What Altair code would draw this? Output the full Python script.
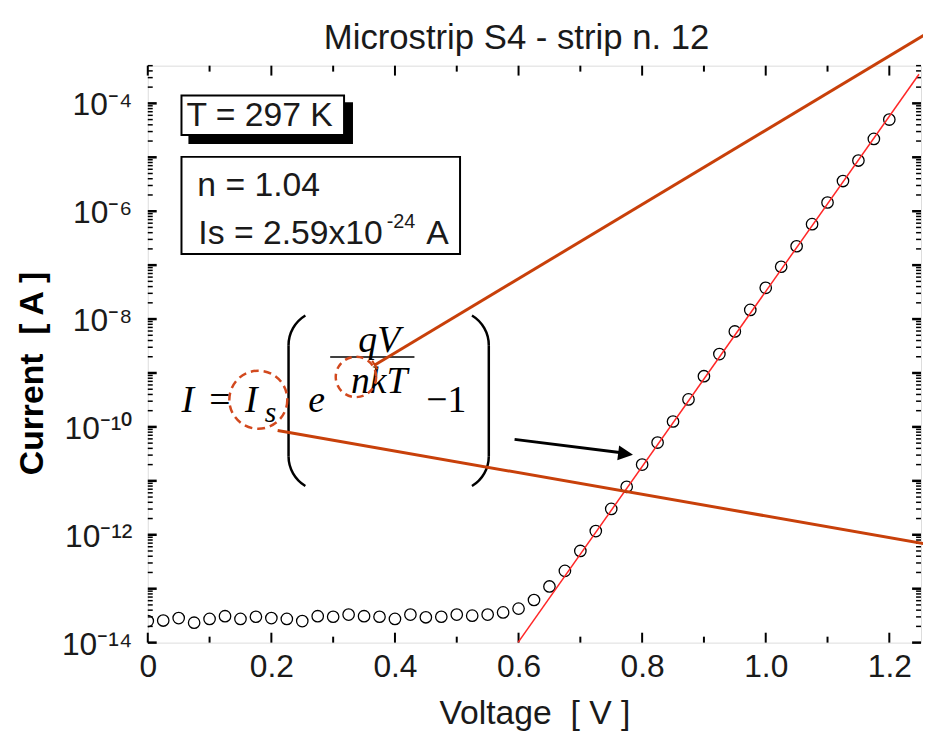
import json
import altair as alt
import pandas as pd

# ---------------- data ----------------
voltage = [0.0, 0.025, 0.05, 0.075, 0.1, 0.125, 0.15, 0.175, 0.2, 0.225,
           0.25, 0.275, 0.3, 0.325, 0.35, 0.375, 0.4, 0.425, 0.45, 0.475,
           0.5, 0.525, 0.55, 0.575, 0.6, 0.625, 0.65, 0.675, 0.7, 0.725,
           0.75, 0.775, 0.8, 0.825, 0.85, 0.875, 0.9, 0.925, 0.95, 0.975,
           1.0, 1.025, 1.05, 1.075, 1.1, 1.125, 1.15, 1.175, 1.2]
current = [2.51e-14, 2.57e-14, 2.85e-14, 2.34e-14, 2.75e-14, 3.09e-14, 2.75e-14, 3.02e-14, 2.85e-14, 2.75e-14,
           2.51e-14, 3.09e-14, 3.02e-14, 3.31e-14, 3.09e-14, 3.02e-14, 2.75e-14, 3.31e-14, 2.95e-14, 3.02e-14,
           3.31e-14, 3.16e-14, 3.31e-14, 3.63e-14, 4.27e-14, 6.17e-14, 1.10e-13, 2.14e-13, 5.01e-13, 1.17e-12,
           3.02e-12, 7.76e-12, 2.00e-11, 5.13e-11, 1.26e-10, 3.24e-10, 8.71e-10, 2.24e-9, 5.89e-9, 1.48e-8,
           3.80e-8, 9.33e-8, 2.24e-7, 5.75e-7, 1.45e-6, 3.63e-6, 8.71e-6, 2.19e-5, 5.01e-5]

fit_voltage = [0.599, 1.248]
fit_current = [1.0e-14, 3.47e-4]

x_major_ticks = [0.0, 0.2, 0.4, 0.6, 0.8, 1.0, 1.2]
x_minor_ticks = [0.1, 0.3, 0.5, 0.7, 0.9, 1.1]
x_tick_labels = ["0", "0.2", "0.4", "0.6", "0.8", "1.0", "1.2"]

y_major_ticks = [1e-14, 1e-13, 1e-12, 1e-11, 1e-10, 1e-9, 1e-8, 1e-7, 1e-6, 1e-5, 1e-4]
y_minor_ticks = [m * d for d in y_major_ticks for m in range(2, 10) if m * d <= 5e-4]
y_label_values = [1e-14, 1e-12, 1e-10, 1e-8, 1e-6, 1e-4]
y_tick_labels = ["10\u207b\u00b9\u2074", "10\u207b\u00b9\u00b2", "10\u207b\u00b9\u2070",
                 "10\u207b\u2078", "10\u207b\u2076", "10\u207b\u2074"]

chart_title = "Microstrip S4 - strip n. 12"
x_title = "Voltage\u00a0\u00a0[ V ]"
y_title = "Current\u00a0\u00a0[ A ]"
temp_text = "T = 297 K"
n_text = "n = 1.04"
is_text = "Is = 2.59x10"
is_exp = "-24"
is_unit = "A"

# ---------------- styling ----------------
W, H = 780, 582
SANS = "Liberation Sans"
SERIF = "Liberation Serif"
INK = "#1a1a1a"
CALLOUT = "#c8400a"
CIRCLE = "#d2491e"

xscale = alt.Scale(domain=[0, 1.2513], nice=False, zero=False)
yscale = alt.Scale(type="log", domain=[1e-14, 5.0e-4], nice=False)

xaxis = alt.Axis(
    values=x_major_ticks,
    labelExpr=json.dumps(x_tick_labels) + "[round(datum.value / 0.2)]",
    ticks=False, domain=False, grid=False,
    labelFont=SANS, labelFontSize=32, labelColor=INK, labelPadding=9,
    labelFlush=False, labelOverlap=False, labelBound=False,
    title=x_title, titleFont=SANS, titleFontSize=34, titleFontWeight="normal",
    titleColor=INK, titleX=390, titleY=82, titleBaseline="alphabetic",
)
yaxis = alt.Axis(
    values=y_label_values,
    labelExpr=json.dumps(y_tick_labels, ensure_ascii=False)
    + "[round((log(datum.value) / LN10 + 14) / 2)]",
    ticks=False, domain=False, grid=False,
    labelFont=SANS, labelFontSize=32, labelColor=INK, labelPadding=16,
    labelBaseline="alphabetic", labelOffset=11.5,
    labelFlush=False, labelOverlap=False, labelBound=False,
    title=y_title, titleFont=SANS, titleFontSize=34, titleFontWeight="bold",
    titleColor="black", titleAngle=270, titleX=-106, titleY=310,
    titleBaseline="alphabetic",
)


def X(f):
    return alt.X(f, type="quantitative", scale=xscale, axis=xaxis)


def Y(f):
    return alt.Y(f, type="quantitative", scale=yscale, axis=yaxis)


one = pd.DataFrame({"k": [0]})
meas = pd.DataFrame({"V": voltage, "I": current})
fit = pd.DataFrame({"V": fit_voltage, "I": fit_current})
ymaj = pd.DataFrame({"v": y_major_ticks})
ymin = pd.DataFrame({"v": y_minor_ticks})
xmaj = pd.DataFrame({"v": x_major_ticks})
xmin = pd.DataFrame({"v": x_minor_ticks})

layers = []

# ticks pointing inward on all four sides
for df, length, sw in [(ymaj, 9, 2.5), (ymin, 5, 1.5)]:
    layers.append(alt.Chart(df).mark_rule(color="black", strokeWidth=sw).encode(
        y=Y("v"), x=alt.value(0), x2=alt.value(length)))
    layers.append(alt.Chart(df).mark_rule(color="black", strokeWidth=sw).encode(
        y=Y("v"), x=alt.value(W - length), x2=alt.value(W)))
for df, length, sw in [(xmaj, 10, 2), (xmin, 6, 2)]:
    layers.append(alt.Chart(df).mark_rule(color="black", strokeWidth=sw).encode(
        x=X("v"), y=alt.value(H), y2=alt.value(H - length)))
    layers.append(alt.Chart(df).mark_rule(color="black", strokeWidth=sw).encode(
        x=X("v"), y=alt.value(0), y2=alt.value(length)))

# measured points and fit
layers.append(alt.Chart(meas).mark_point(
    shape="circle", filled=False, size=133, color="black", strokeWidth=1.3,
    opacity=1, clip=True).encode(x=X("V"), y=Y("I")))
layers.append(alt.Chart(fit).mark_line(color="#ff2626", strokeWidth=1.5, clip=True).encode(
    x=X("V"), y=Y("I")))

# annotation boxes
layers.append(alt.Chart(one).mark_rect(fill="black").encode(
    x=alt.value(41), x2=alt.value(207), y=alt.value(37), y2=alt.value(79)))
layers.append(alt.Chart(one).mark_rect(fill="white", stroke="black", strokeWidth=2).encode(
    x=alt.value(34), x2=alt.value(198), y=alt.value(30), y2=alt.value(70)))
layers.append(alt.Chart(one).mark_rect(fill="white", stroke="black", strokeWidth=2).encode(
    x=alt.value(34), x2=alt.value(315), y=alt.value(92), y2=alt.value(190)))


def label(txt, x, y, size, font=SANS, style="normal", align="left", color=INK):
    return alt.Chart(one).mark_text(
        text=txt, font=font, fontSize=size, fontStyle=style, align=align,
        baseline="alphabetic", color=color).encode(x=alt.value(x), y=alt.value(y))


layers += [
    label(chart_title, 372, -17, 35, align="center"),
    label(temp_text, 39, 61, 34),
    label(n_text, 50, 131, 34),
    label(is_text, 51, 180, 34),
    label(is_exp, 241, 164, 20),
    label(is_unit, 281, 180, 34),
]

# formula
layers += [
    label("I", 34, 349, 38, SERIF, "italic", color="black"),
    label("=", 62, 349, 38, SERIF, color="black"),
    label("I", 98, 349, 38, SERIF, "italic", color="black"),
    label("s", 118, 359, 30, SERIF, "italic", color="black"),
    label("e", 162, 349, 38, SERIF, "italic", color="black"),
    label("qV", 233.5, 289, 38, SERIF, "italic", "center", color="black"),
    label("nkT", 233.5, 330, 38, SERIF, "italic", "center", color="black"),
    label("\u22121", 281, 349, 38, SERIF, color="black"),
]
layers.append(alt.Chart(one).mark_rule(color="black", strokeWidth=1.5).encode(
    x=alt.value(184), x2=alt.value(269), y=alt.value(294)))
# big parentheses
for xv in [142, 344]:
    layers.append(alt.Chart(one).mark_rule(color="black", strokeWidth=2.5).encode(
        x=alt.value(xv), y=alt.value(282), y2=alt.value(394)))
for cx, cy, t1, t2 in [(177, 282, 4.712, 5.742), (177, 394, 3.683, 4.712),
                       (309, 282, 0.541, 1.571), (309, 394, 1.571, 2.601)]:
    layers.append(alt.Chart(one).mark_arc(
        theta=t1, theta2=t2, radius=36.25, radius2=33.75, color="black").encode(
        x=alt.value(cx), y=alt.value(cy)))

# dashed circles
layers.append(alt.Chart(one).mark_point(
    shape="circle", filled=False, size=3421, stroke=CIRCLE, strokeWidth=2.5,
    strokeDash=[8, 5], opacity=1).encode(x=alt.value(111.5), y=alt.value(337)))
layers.append(alt.Chart(one).mark_point(
    shape="circle", filled=False, size=1662, stroke=CIRCLE, strokeWidth=2.5,
    strokeDash=[7, 5], opacity=1).encode(x=alt.value(210), y=alt.value(314)))

# callout lines
layers.append(alt.Chart(one).mark_rule(color=CALLOUT, strokeWidth=3).encode(
    x=alt.value(229), y=alt.value(302), x2=alt.value(785), y2=alt.value(-32)))
layers.append(alt.Chart(one).mark_rule(color=CALLOUT, strokeWidth=2).encode(
    x=alt.value(226.4), y=alt.value(297.7), x2=alt.value(231.6), y2=alt.value(306.3)))
layers.append(alt.Chart(one).mark_rule(color=CALLOUT, strokeWidth=3).encode(
    x=alt.value(131), y=alt.value(368), x2=alt.value(785), y2=alt.value(482.5)))

# black arrow
layers.append(alt.Chart(one).mark_rule(color="black", strokeWidth=3).encode(
    x=alt.value(370), y=alt.value(377), x2=alt.value(476), y2=alt.value(390.2)))
layers.append(alt.Chart(one).mark_point(
    shape="M-1,-1L1,0L-1,1Z", filled=True, size=225, color="black", angle=7,
    opacity=1).encode(x=alt.value(482), y=alt.value(391.5)))

chart = alt.layer(*layers).properties(
    width=W, height=H,
    autosize=alt.AutoSizeParams(type="none"),
    padding={"left": 141, "top": 55, "right": 2, "bottom": 88},
).configure_view(stroke="black", strokeWidth=2).configure(background="white")

chart.save("out.html", embed_options={"renderer": "svg", "actions": False})
